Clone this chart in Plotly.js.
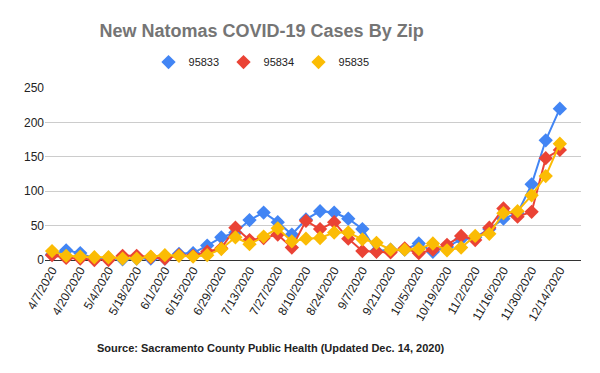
<!DOCTYPE html>
<html>
<head>
<meta charset="utf-8">
<script src="https://cdn.plot.ly/plotly-3.0.1.min.js"></script>
<style>html,body{margin:0;padding:0;background:#fff}#chart{width:600px;height:373px}</style>
</head>
<body>
<div id="chart"></div>
<script>
var weeks = ["4/7/2020","4/13/2020","4/20/2020","4/27/2020","5/4/2020","5/11/2020","5/18/2020","5/25/2020","6/1/2020","6/8/2020","6/15/2020","6/22/2020","6/29/2020","7/6/2020","7/13/2020","7/20/2020","7/27/2020","8/3/2020","8/10/2020","8/17/2020","8/24/2020","8/31/2020","9/7/2020","9/14/2020","9/21/2020","9/28/2020","10/5/2020","10/12/2020","10/19/2020","10/26/2020","11/2/2020","11/9/2020","11/16/2020","11/23/2020","11/30/2020","12/7/2020","12/14/2020"];
var tickLabels = ["4/7/2020","4/20/2020","5/4/2020","5/18/2020","6/1/2020","6/15/2020","6/29/2020","7/13/2020","7/27/2020","8/10/2020","8/24/2020","9/7/2020","9/21/2020","10/5/2020","10/19/2020","11/2/2020","11/16/2020","11/30/2020","12/14/2020"];
var zip95833 = [8,14,10,2,3,1,2,2,2,9,10,21,33,40,58,69,55,37,59,71,69,60,45,13,15,15,24,12,19,30,33,45,60,68,110,174,220];
var zip95834 = [7,3,2,0,0,6,6,4,2,7,6,12,17,47,29,32,37,18,57,45,55,31,13,12,11,17,10,15,22,35,29,47,75,63,70,148,160];
var zip95835 = [13,6,5,4,4,2,2,5,7,6,5,7,16,33,23,34,46,27,31,32,40,40,30,25,15,15,16,24,14,18,35,38,68,71,94,122,169];
var seriesNames = ["95833","95834","95835"];
var colors = ["#4285F4","#EA4335","#FBBC04"];
var allSeries = [zip95833, zip95834, zip95835];

var traces = allSeries.map(function(vals, i){
  return {
    x: weeks, y: vals, name: seriesNames[i], type: 'scatter', mode: 'lines+markers',
    line: {color: colors[i], width: 2},
    marker: {symbol: 'diamond', size: 11, color: colors[i]},
    cliponaxis: false, showlegend: false
  };
});
// legend entries: diamond only, as in the reference
allSeries.forEach(function(vals, i){
  traces.push({x: [null], y: [null], name: seriesNames[i], type: 'scatter', mode: 'markers',
    marker: {symbol: 'diamond', size: 11, color: colors[i]}, showlegend: true});
});

var layout = {
  width: 600, height: 373,
  margin: {l: 45, r: 19, t: 88, b: 113},
  paper_bgcolor: '#fff', plot_bgcolor: '#fff',
  font: {family: 'Liberation Sans, Arial, sans-serif', color: '#222', size: 12},
  title: {text: '<b>New Natomas COVID-19 Cases By Zip</b>', font: {size: 18, color: '#757575'},
          x: 0.436, xanchor: 'center', xref: 'container', y: 0.917, yanchor: 'middle', yref: 'container'},
  showlegend: true,
  legend: {orientation: 'h', x: 0.403, xanchor: 'center', y: 1.151, yanchor: 'middle',
           font: {size: 11, color: '#222'}, itemwidth: 30, entrywidth: 30, traceorder: 'normal'},
  xaxis: {type: 'category', categoryorder: 'array', categoryarray: weeks, range: [-0.5, 37.5],
          tickmode: 'array', tickvals: tickLabels, ticktext: tickLabels, tickangle: -60,
          showgrid: false, showline: false, ticks: '', tickfont: {size: 12, color: '#222'}, fixedrange: true},
  yaxis: {range: [0, 250], dtick: 50, tick0: 0, showgrid: true, gridcolor: '#cccccc', gridwidth: 1,
          zeroline: true, zerolinecolor: '#333333', zerolinewidth: 1, ticks: '', showline: false,
          tickfont: {size: 12, color: '#222'}, fixedrange: true},
  annotations: [{text: '<b>Source: Sacramento County Public Health (Updated Dec. 14, 2020)</b>',
                 xref: 'paper', yref: 'paper', x: (271-45)/536, y: -(348-260)/172, xanchor: 'center', yanchor: 'middle',
                 showarrow: false, font: {size: 11, color: '#222'}}]
};
Plotly.newPlot('chart', traces, layout, {displayModeBar: false, staticPlot: true});
</script>
</body>
</html>
